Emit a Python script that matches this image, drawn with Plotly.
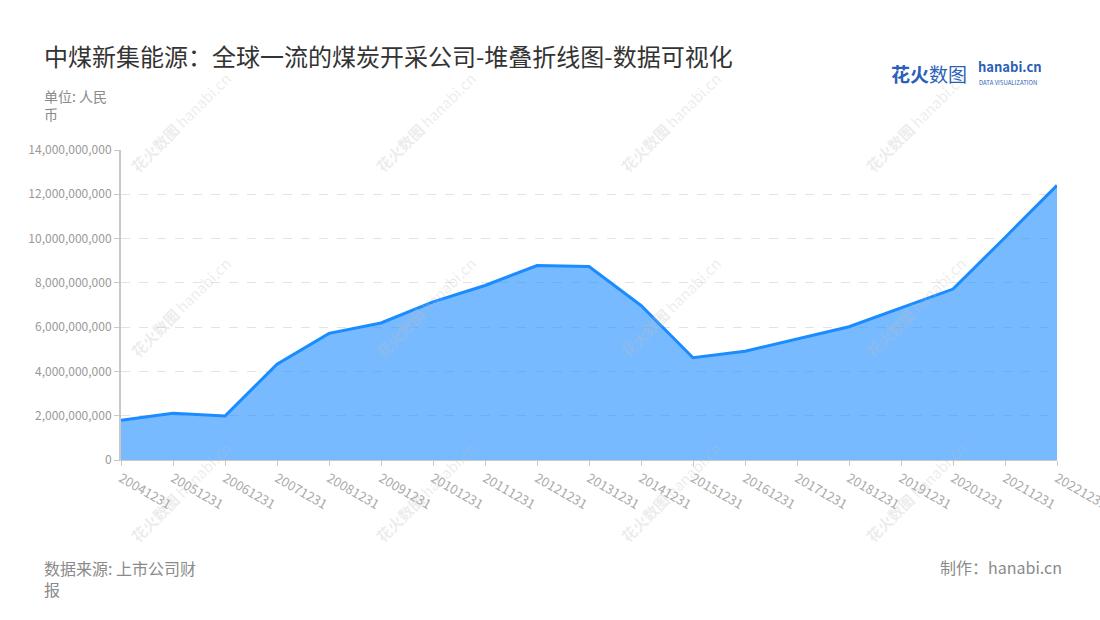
import plotly.graph_objects as go

# 报告期 & 数值（单位：人民币）
periods = ["20041231", "20051231", "20061231", "20071231", "20081231", "20091231",
           "20101231", "20111231", "20121231", "20131231", "20141231", "20151231",
           "20161231", "20171231", "20181231", "20191231", "20201231", "20211231",
           "20221231"]
values = [1.80e9, 2.11e9, 1.99e9, 4.33e9, 5.72e9, 6.19e9,
          7.14e9, 7.88e9, 8.78e9, 8.74e9, 6.98e9, 4.62e9,
          4.91e9, 5.46e9, 6.02e9, 6.87e9, 7.72e9, 10.05e9,
          12.40e9]
y_ticks = [0, 2e9, 4e9, 6e9, 8e9, 10e9, 12e9, 14e9]

FONT = "Noto Sans CJK SC, Noto Sans, sans-serif"
W, H = 1100, 620
L, R, T, B = 121, 43, 150, 160
PW, PH = W - L - R, H - T - B


def px(x, y):
    # page pixels -> paper coords of the plot area
    return (x - L) / PW, (T + PH - y) / PH


fig = go.Figure()

fig.add_trace(go.Scatter(
    x=periods,
    y=values,
    mode="lines",
    line=dict(color="#1a8cff", width=3),
    fill="tozeroy",
    fillcolor="rgba(30,140,255,0.6)",
    hoverinfo="x+y",
    showlegend=False,
))

annotations = []

# 水印
for cx in [180, 425, 670, 915]:
    for cy in [122, 307, 492]:
        ax, ay = px(cx, cy)
        annotations.append(dict(
            text="<b>花火数图</b> hanabi.cn", x=ax, y=ay,
            xref="paper", yref="paper", showarrow=False, textangle=-45,
            font=dict(family=FONT, size=15, color="rgba(190,190,190,0.28)"),
            xanchor="center", yanchor="middle",
        ))

# 标题与说明文字
texts = [
    dict(text="中煤新集能源：全球一流的煤炭开采公司-堆叠折线图-数据可视化",
         pos=(42, 55), font=dict(size=24, color="#333333")),
    dict(text="单位: 人民<br>币", pos=(42, 105), font=dict(size=14, color="#8a8a8a")),
    dict(text="数据来源: 上市公司财<br>报", pos=(42, 578), font=dict(size=16, color="#8a8a8a")),
    dict(text="制作：hanabi.cn", pos=(1064, 567), xanchor="right",
         font=dict(size=16, color="#8a8a8a")),
    dict(text="<b>花火</b>数图", pos=(889, 73), font=dict(size=19, color="#2b5fb8")),
    dict(text="<b>hanabi.cn</b>", pos=(976, 67), font=dict(size=13, color="#2b5fb8")),
    dict(text="DATA VISUALIZATION", pos=(977, 82), font=dict(size=6, color="#2b5fb8")),
]
for t in texts:
    ax, ay = px(*t.pop("pos"))
    t.setdefault("xanchor", "left")
    t["font"]["family"] = FONT
    t.update(x=ax, y=ay, xref="paper", yref="paper", showarrow=False,
             yanchor="middle", align="left")
    annotations.append(t)

fig.update_layout(
    width=W,
    height=H,
    margin=dict(l=L, r=R, t=T, b=B),
    paper_bgcolor="white",
    plot_bgcolor="white",
    font=dict(family=FONT, color="#999999", size=12),
    annotations=annotations,
    xaxis=dict(
        type="category",
        range=[0, len(periods) - 1],
        automargin=False,
        showgrid=False,
        showline=True,
        linecolor="#c8c8c8",
        linewidth=1,
        ticks="outside",
        ticklen=5,
        tickcolor="#c8c8c8",
        tickangle=30,
        tickfont=dict(size=13, color="#aaaaaa"),
    ),
    yaxis=dict(
        range=[0, 14e9],
        tickvals=y_ticks,
        tickformat=",",
        automargin=False,
        showgrid=True,
        gridcolor="#e3e3e3",
        griddash="dash",
        showline=True,
        linecolor="#c8c8c8",
        linewidth=2,
        ticks="outside",
        ticklen=5,
        tickcolor="#c8c8c8",
        zeroline=False,
        tickfont=dict(size=12, color="#999999"),
    ),
)

fig.write_html("out.html", config={"responsive": False, "displayModeBar": False},
               post_script="document.body.style.margin='0';document.body.style.overflow='hidden';")
